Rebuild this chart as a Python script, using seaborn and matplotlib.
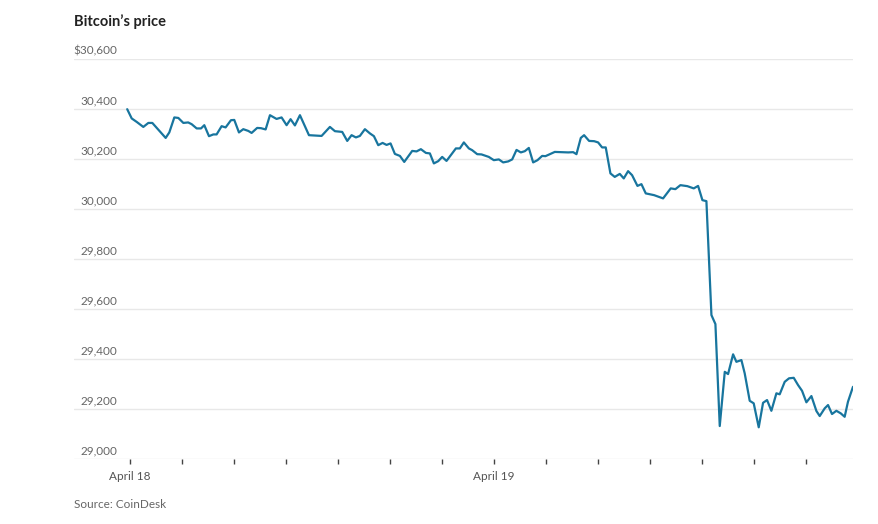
import numpy as np
import pandas as pd
import matplotlib.pyplot as plt
import matplotlib.transforms as mtransforms
import seaborn as sns

# hours after the "April 18" tick, price in USD
hours = [-0.16, 0.10, 0.39, 0.77, 1.06, 1.29, 2.06, 2.27, 2.56, 2.79,
         3.08, 3.36, 3.56, 3.85, 4.10, 4.29, 4.56, 4.81, 5.00, 5.29,
         5.52, 5.83, 6.02, 6.29, 6.54, 6.83, 7.02, 7.34, 7.56, 7.83,
         8.08, 8.46, 8.75, 9.04, 9.27, 9.52, 9.81, 10.33, 11.06, 11.54,
         11.83, 12.25, 12.54, 12.79, 13.04, 13.27, 13.56, 13.85, 14.08, 14.33,
         14.58, 14.81, 15.04, 15.29, 15.58, 15.83, 16.29, 16.54, 16.79, 17.08,
         17.31, 17.54, 17.79, 18.02, 18.27, 18.81, 19.04, 19.27, 19.56, 19.75,
         20.04, 20.29, 20.71, 21.00, 21.29, 21.54, 21.83, 22.06, 22.31, 22.56,
         22.79, 23.02, 23.27, 23.52, 23.79, 23.98, 24.23, 24.52, 24.91, 25.29,
         25.58, 25.77, 26.02, 26.21, 26.50, 26.79, 27.02, 27.25, 27.46, 27.73,
         27.98, 28.27, 28.50, 28.75, 28.98, 29.29, 29.52, 29.77, 30.25, 30.77,
         31.21, 31.48, 31.77, 32.17, 32.54, 32.79, 33.04, 33.27, 33.56, 33.79,
         34.04, 34.33, 34.52, 34.81, 35.00, 35.29, 35.48, 35.77, 36.00, 36.29,
         36.54, 36.77, 37.02, 37.31, 37.50, 37.79, 38.04, 38.31, 38.56, 38.79,
         39.04, 39.33, 39.62, 39.81, 40.10, 40.29, 40.52, 40.77, 41.02, 41.25,
         41.44, 41.73]
prices = [30400, 30363, 30349, 30329, 30345, 30345, 30285, 30307, 30367, 30365,
          30345, 30347, 30340, 30323, 30323, 30336, 30292, 30299, 30299, 30332,
          30327, 30356, 30357, 30307, 30320, 30313, 30305, 30325, 30324, 30319,
          30376, 30361, 30367, 30336, 30360, 30335, 30376, 30296, 30293, 30329,
          30312, 30309, 30273, 30296, 30287, 30293, 30320, 30303, 30292, 30256,
          30265, 30257, 30263, 30221, 30213, 30189, 30233, 30231, 30240, 30225,
          30223, 30183, 30192, 30209, 30193, 30243, 30243, 30267, 30243, 30236,
          30220, 30219, 30209, 30196, 30199, 30187, 30191, 30199, 30237, 30227,
          30232, 30245, 30187, 30196, 30213, 30212, 30220, 30229, 30228, 30227,
          30228, 30220, 30285, 30296, 30273, 30272, 30267, 30247, 30247, 30143,
          30129, 30141, 30123, 30152, 30136, 30093, 30100, 30063, 30056, 30043,
          30083, 30080, 30096, 30092, 30083, 30093, 30036, 30032, 29576, 29540,
          29132, 29349, 29340, 29419, 29389, 29396, 29343, 29233, 29223, 29127,
          29225, 29236, 29193, 29263, 29259, 29309, 29323, 29325, 29296, 29273,
          29227, 29252, 29192, 29172, 29203, 29216, 29180, 29193, 29183, 29169,
          29229, 29289]

y_ticks = [29000, 29200, 29400, 29600, 29800, 30000, 30200, 30400, 30600]
y_labels = ["29,000", "29,200", "29,400", "29,600", "29,800", "30,000",
            "30,200", "30,400", "$30,600"]
x_ticks = list(range(0, 40, 3))
x_labels = ["April 18" if t == 0 else "April 19" if t == 21 else "" for t in x_ticks]

df = pd.DataFrame({"hours": hours, "price": prices})

sns.set_style("white")
plt.rcParams["font.family"] = ["Lato", "DejaVu Sans"]

fig = plt.figure(figsize=(8.79, 5.24), dpi=100)
ax = fig.add_axes([0.0842, 0.124, 0.8862, 0.763])

sns.lineplot(data=df, x="hours", y="price", ax=ax, color="#18759e",
             linewidth=1.6, sort=False)

ax.set_xlim(-3.23, 41.73)
ax.set_ylim(29000, 30600)
ax.set_yticks(y_ticks)
ax.set_yticklabels(y_labels)
ax.set_xticks(x_ticks)
ax.set_xticklabels(x_labels)

ax.grid(axis="y", color="#e8e8e8", linewidth=1.0)
ax.grid(axis="x", visible=False)
for s in ax.spines.values():
    s.set_visible(False)
ax.set_xlabel("")
ax.set_ylabel("")

ax.tick_params(axis="y", length=0, pad=0, labelsize=8.5, labelcolor="#666666")
ax.tick_params(axis="x", length=3.5, width=1, color="#444444", pad=5,
               labelsize=8.5, labelcolor="#555555", direction="out", bottom=True)

# y labels sit above the gridlines, right edge near x=117px
offset = mtransforms.ScaledTranslation(0.43, 0.03, fig.dpi_scale_trans)
for lab in ax.get_yticklabels():
    lab.set_transform(lab.get_transform() + offset)
    lab.set_horizontalalignment("right")
    lab.set_verticalalignment("bottom")

fig.text(74 / 879, 1 - 26 / 524, "Bitcoin\u2019s price", fontsize=10.5,
         fontweight="bold", color="#222222", ha="left", va="baseline")
fig.text(74 / 879, 1 - 505 / 524, "Source: CoinDesk", fontsize=8.5,
         color="#666666", ha="left", va="center")

fig.savefig("out.png", dpi=100)
